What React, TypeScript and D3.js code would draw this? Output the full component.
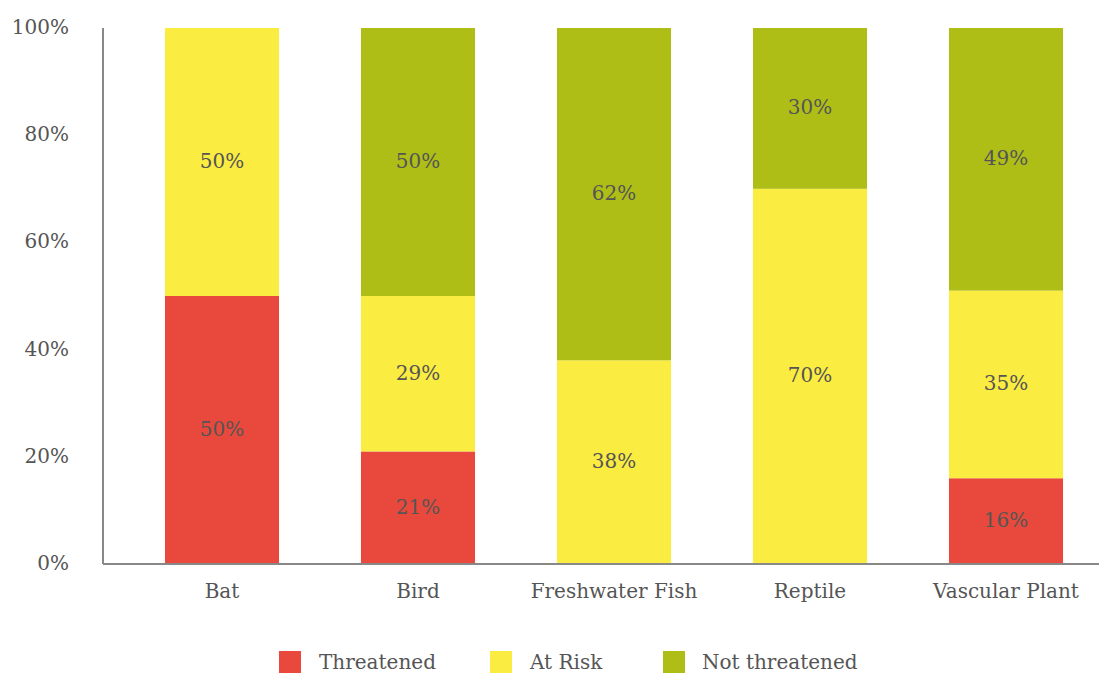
import React from "react";
import * as d3 from "d3";

const categories = ["Bat", "Bird", "Freshwater Fish", "Reptile", "Vascular Plant"];
const seriesNames = ["Threatened", "At Risk", "Not threatened"];
const threatened = [50, 21, 0, 0, 16];
const atRisk = [50, 29, 38, 70, 35];
const notThreatened = [0, 50, 62, 30, 49];
const yTicks = [0, 20, 40, 60, 80, 100];
const colors = ["#e8493c", "#fbec41", "#aebe17"];

const W = 1099;
const H = 673;
const FONT = "'DejaVu Serif', 'Liberation Serif', serif";
const TEXT = "#555";
const FS = 20;

export default function App() {
  const margin = { left: 103, top: 28, bottom: 564 };

  const rows = categories.map((c, i) => ({
    cat: c,
    Threatened: threatened[i],
    "At Risk": atRisk[i],
    "Not threatened": notThreatened[i],
  }));

  const stack = d3.stack<any>().keys(seriesNames);
  const layers = stack(rows);

  const x = d3
    .scaleBand<string>()
    .domain(categories)
    .range([124, 1104])
    .paddingInner(0.418)
    .paddingOuter(0.209);

  const y = d3.scaleLinear().domain([0, 100]).range([margin.bottom, margin.top]);

  const color = d3.scaleOrdinal<string>().domain(seriesNames).range(colors);

  const legendItems = [
    { name: "Threatened", sx: 279, tx: 319 },
    { name: "At Risk", sx: 490, tx: 530 },
    { name: "Not threatened", sx: 663, tx: 702 },
  ];

  return (
    <svg
      width={W}
      height={H}
      style={{ position: "absolute", left: 0, top: 0, fontFamily: FONT }}
    >
      {/* bars */}
      {layers.map((layer) => (
        <g key={layer.key} fill={color(layer.key)}>
          {layer.map((d, i) => {
            const h = y(d[0]) - y(d[1]);
            if (h <= 0) return null;
            return (
              <rect
                key={i}
                x={x(categories[i])}
                y={y(d[1])}
                width={x.bandwidth()}
                height={h}
              />
            );
          })}
        </g>
      ))}

      {/* value labels */}
      {layers.map((layer) => (
        <g key={layer.key + "-lbl"} textAnchor="middle" fill={TEXT} fontSize={FS}>
          {layer.map((d, i) => {
            const v = d[1] - d[0];
            if (v <= 0) return null;
            return (
              <text
                key={i}
                x={(x(categories[i]) ?? 0) + x.bandwidth() / 2}
                y={y((d[0] + d[1]) / 2)}
                dy="0.3em"
              >
                {v}%
              </text>
            );
          })}
        </g>
      ))}

      {/* axes */}
      <line x1={margin.left} x2={margin.left} y1={margin.top} y2={margin.bottom} stroke="#888" strokeWidth={2} />
      <line x1={margin.left} x2={W} y1={margin.bottom} y2={margin.bottom} stroke="#888" strokeWidth={2} />

      <g textAnchor="end" fill={TEXT} fontSize={FS}>
        {yTicks.map((t) => (
          <text key={t} x={69} y={y(t)} dy="0.3em">
            {t}%
          </text>
        ))}
      </g>

      <g textAnchor="middle" fill={TEXT} fontSize={FS}>
        {categories.map((c) => (
          <text key={c} x={(x(c) ?? 0) + x.bandwidth() / 2} y={598}>
            {c}
          </text>
        ))}
      </g>

      {/* legend */}
      <g fontSize={FS} fill={TEXT}>
        {legendItems.map((l) => (
          <g key={l.name}>
            <rect x={l.sx} y={651} width={22} height={22} fill={color(l.name)} />
            <text x={l.tx} y={669}>
              {l.name}
            </text>
          </g>
        ))}
      </g>
    </svg>
  );
}
